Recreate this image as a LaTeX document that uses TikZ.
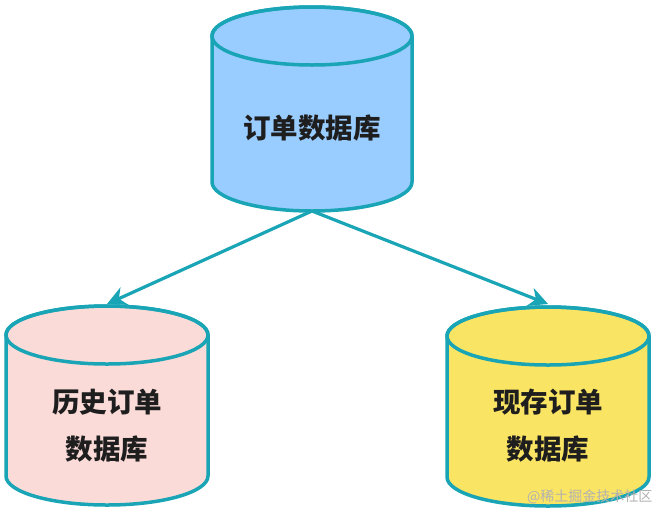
\documentclass[tikz,border=0pt]{standalone}
\usepackage{fontspec}
\newfontfamily\cjk{Noto Sans CJK SC}
\usetikzlibrary{arrows.meta}
\definecolor{edge}{HTML}{1AA5B6}
\definecolor{fillblue}{HTML}{99CCFF}
\definecolor{fillpink}{HTML}{FADBD8}
\definecolor{fillyellow}{HTML}{FAE463}
\definecolor{txt}{HTML}{1E1E1E}
\tikzset{
  cylbody/.style={draw=edge, line width=3.5pt},
  cyltext/.style={font=\cjk\bfseries\fontsize{27.5}{47}\selectfont, text=txt, align=center},
  conn/.style={draw=edge, line width=3.2pt, -{Stealth[length=19pt,width=19pt,inset=6pt]}},
  wm/.style={font=\cjk\fontsize{14}{16}\selectfont, text=black!30}
}
\begin{document}
\begin{tikzpicture}[x=1pt,y=1pt]
\useasboundingbox (0,0) rectangle (660,-515);
\def\cylinder#1#2#3#4#5#6{%
  \filldraw[cylbody, fill=#6] (#1-#2,-#3) -- (#1-#2,-#4)
     arc[start angle=180, end angle=360, x radius=#2, y radius=#5]
     -- (#1+#2,-#3)
     arc[start angle=0, end angle=180, x radius=#2, y radius=#5] -- cycle;
  \draw[cylbody] (#1,-#3) ellipse[x radius=#2, y radius=#5];
}
\cylinder{312}{100}{36}{182}{29}{fillblue}
\cylinder{107}{101}{335}{476}{29}{fillpink}
\cylinder{548}{101}{336}{477}{29}{fillyellow}
\node[cyltext] (main) at (312,-128) {订单数据库};
\node[cyltext] (hist) at (107,-426) {历史订单\\数据库};
\node[cyltext] (cur) at (548,-426) {现存订单\\数据库};
\coordinate (mainbot) at (312,-211);
\coordinate (histtop) at (107,-304);
\coordinate (curtop) at (548,-304);
\draw[conn] (mainbot) -- (histtop);
\draw[conn] (mainbot) -- (curtop);
\node[wm, anchor=east] (mark) at (656,-497) {@稀土掘金技术社区};
\end{tikzpicture}
\end{document}
